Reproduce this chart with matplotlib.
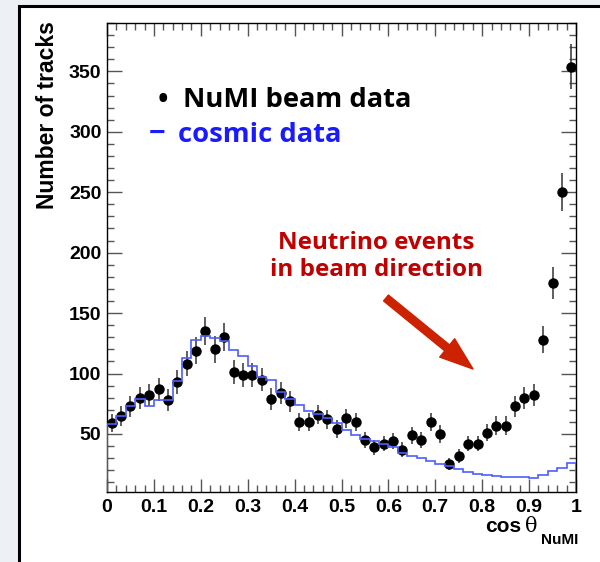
import numpy as np
import matplotlib
matplotlib.use("Agg")
import matplotlib.pyplot as plt
from matplotlib.patches import Rectangle, FancyArrowPatch
from matplotlib.ticker import MultipleLocator

# cos(theta_NuMI) binning: 50 bins of width 0.02
bin_edges = np.linspace(0.0, 1.0, 51)
bin_centers = 0.5 * (bin_edges[:-1] + bin_edges[1:])

# NuMI beam data: track counts per bin
beam_counts = [59, 65, 73, 80, 82, 87, 78, 93, 108, 119,
               135, 120, 130, 101, 99, 99, 95, 79, 84, 77,
               60, 60, 66, 62, 54, 63, 60, 45, 39, 42,
               44, 37, 49, 45, 60, 50, 25, 32, 42, 42,
               51, 57, 57, 73, 80, 82, 128, 175, 250, 354]

# cosmic data, normalised, per bin
cosmic_counts = [58.5, 64.6, 72.8, 79.0, 72.8, 77.8, 77.8, 93.5, 112.6, 128.0,
                 131.3, 129.4, 126.6, 119.7, 114.8, 106.5, 97.0, 94.4, 85.0, 79.0,
                 74.2, 68.7, 66.5, 63.2, 59.1, 53.6, 49.4, 45.5, 44.0, 41.5,
                 39.0, 34.5, 32.0, 30.0, 27.9, 25.4, 23.2, 20.8, 18.5, 17.0,
                 16.0, 15.2, 14.3, 14.2, 14.1, 13.6, 15.9, 19.1, 21.9, 26.0]

x_ticks = [0, 0.1, 0.2, 0.3, 0.4, 0.5, 0.6, 0.7, 0.8, 0.9, 1]
x_tick_labels = ["0", "0.1", "0.2", "0.3", "0.4", "0.5", "0.6", "0.7", "0.8", "0.9", "1"]
y_ticks = [50, 100, 150, 200, 250, 300, 350]

W, H = 600, 562
fig = plt.figure(figsize=(W / 100, H / 100), dpi=100)
fig.patch.set_facecolor("#edf0f4")

# white slide panel with black frame
panel = Rectangle((19 / W, -0.01), 1 - 19 / W + 0.01, 1 - 6 / H + 0.01,
                  transform=fig.transFigure, facecolor="white", edgecolor="black",
                  linewidth=2.2, zorder=-5)
fig.patches.append(panel)

ax = fig.add_axes([107 / W, 1 - 492 / H, (576 - 107) / W, (492 - 23) / H])
ax.set_facecolor("white")

beam = np.array(beam_counts, dtype=float)
beam_err = np.sqrt(beam)

ax.errorbar(bin_centers, beam, yerr=beam_err, fmt="o", color="black",
            ecolor="#333333", elinewidth=1.1, markersize=6.5, capsize=0, zorder=3)
ax.stairs(cosmic_counts, bin_edges, color="#4d5dff", linewidth=1.2, zorder=4)

ax.set_xlim(0, 1)
ax.set_ylim(2, 390)
ax.set_xticks(x_ticks)
ax.set_xticklabels(x_tick_labels)
ax.set_yticks(y_ticks)
ax.xaxis.set_minor_locator(MultipleLocator(0.02))
ax.yaxis.set_minor_locator(MultipleLocator(10))
ax.tick_params(which="both", direction="in", top=True, right=True, color="#555555",
               width=1.0)
ax.tick_params(which="major", axis="y", length=10.5)
ax.tick_params(which="minor", axis="y", length=5.2)
ax.tick_params(which="major", axis="x", length=9.5)
ax.tick_params(which="minor", axis="x", length=5)
ax.tick_params(axis="both", labelsize=14)
ax.tick_params(axis="y", pad=4)
ax.tick_params(axis="x", pad=5)
for lab in ax.get_xticklabels() + ax.get_yticklabels():
    lab.set_fontfamily("Liberation Sans")
    lab.set_fontweight("bold")
for s in ax.spines.values():
    s.set_color("black")
    s.set_linewidth(1.0)

# axis titles
fig.text(48 / W, 1 - 21 / H, "Number of tracks", rotation=90, ha="center", va="top",
         fontsize=16.5, fontweight="bold", family="Liberation Sans")
fig.text(521 / W, 1 - 527 / H, "cos", ha="right", va="center",
         fontsize=15, fontweight="bold", family="Liberation Sans")
fig.text(525 / W, 1 - 526 / H, "\u03b8", ha="left", va="center",
         fontsize=15, family="DejaVu Serif")
fig.text(578 / W, 1 - 540 / H, "NuMI", ha="right", va="center",
         fontsize=11, fontweight="bold", family="Liberation Sans")

# legend-style labels
fig.text(163 / W, 1 - 100 / H, "\u2022", ha="center", va="center", fontsize=20,
         color="black", family="Open Sans", fontweight="bold")
fig.text(183 / W, 1 - 100 / H, "NuMI beam data", ha="left", va="center", fontsize=19.7,
         color="black", family="Open Sans", fontweight="bold")
fig.text(149 / W, 1 - 134 / H, "\u2212", ha="left", va="center", fontsize=21,
         color="#1a1aff", family="Open Sans", fontweight="bold")
fig.text(178 / W, 1 - 135 / H, "cosmic data", ha="left", va="center", fontsize=19.7,
         color="#1a1aff", family="Open Sans", fontweight="bold")

# annotation
fig.text(376 / W, 1 - 243 / H, "Neutrino events", ha="center", va="center", fontsize=17.5,
         color="#c00000", family="Open Sans", fontweight="bold")
fig.text(376 / W, 1 - 270 / H, "in beam direction", ha="center", va="center", fontsize=17.5,
         color="#c00000", family="Open Sans", fontweight="bold")
arrow = FancyArrowPatch((386, H - 298), (473, H - 369), transform=None,
                        arrowstyle="simple,head_length=24,head_width=17,tail_width=5.5",
                        mutation_scale=1, color="#cc2200", shrinkA=0, shrinkB=0, zorder=5)
fig.patches.append(arrow)

fig.savefig("out.png", dpi=100, facecolor=fig.get_facecolor())
